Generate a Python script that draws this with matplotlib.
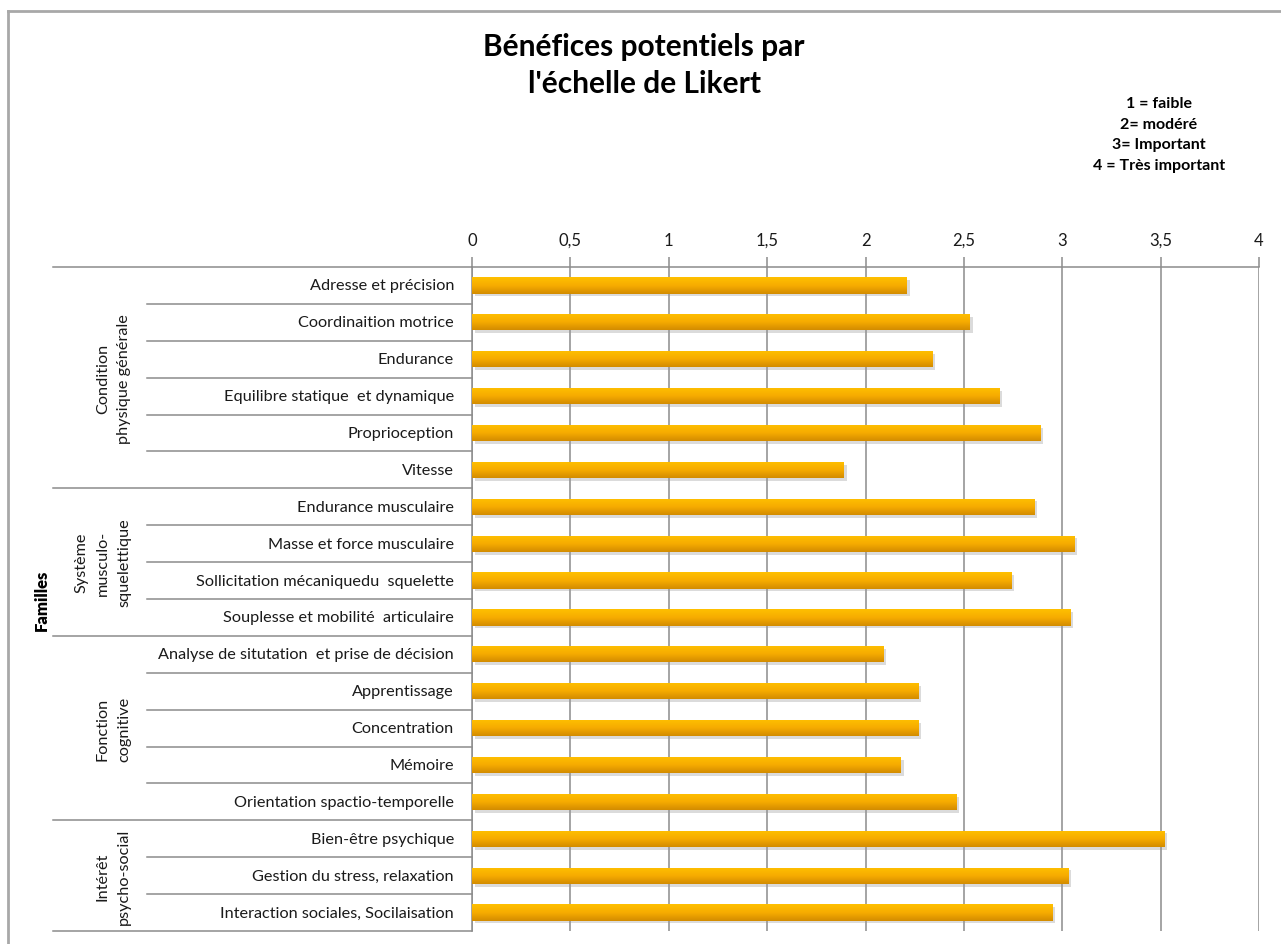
import numpy as np
import matplotlib.pyplot as plt
import matplotlib.patheffects as pe
import matplotlib.transforms as mtransforms
from matplotlib.colors import LinearSegmentedColormap
from matplotlib.lines import Line2D

plt.rcParams['font.family'] = ['Lato', 'DejaVu Sans']

# bénéfices moyens (échelle de Likert 1-4), de haut en bas
items = [
    "Adresse et précision",
    "Coordinaition motrice",
    "Endurance",
    "Equilibre statique  et dynamique",
    "Proprioception",
    "Vitesse",
    "Endurance musculaire",
    "Masse et force musculaire",
    "Sollicitation mécaniquedu  squelette",
    "Souplesse et mobilité  articulaire",
    "Analyse de situtation  et prise de décision",
    "Apprentissage",
    "Concentration",
    "Mémoire",
    "Orientation spactio-temporelle",
    "Bien-être psychique",
    "Gestion du stress, relaxation",
    "Interaction sociales, Socilaisation",
]
values = [2.21, 2.53, 2.34, 2.68, 2.89, 1.89,
          2.86, 3.06, 2.74, 3.04,
          2.09, 2.27, 2.27, 2.18, 2.46,
          3.52, 3.03, 2.95]
groups = ["Condition\nphysique générale",
          "Système\nmusculo-\nsquelettique",
          "Fonction\ncognitive",
          "Intérêt\npsycho-social"]
group_sizes = [6, 4, 5, 3]
xticks = [0, 0.5, 1, 1.5, 2, 2.5, 3, 3.5, 4]
scale_notes = ["1 = faible", "2= modéré", "3= Important", "4 = Très important"]

W, H = 1281, 945
fx = lambda x: x / W
fy = lambda y: 1 - y / H

GRID = '#8c8c8c'
TXT = '#1a1a1a'
FS = 11.7

fig = plt.figure(figsize=(W / 100, H / 100), dpi=100)
fig.patch.set_facecolor('white')
ax = fig.add_axes([fx(472), fy(932), fx(1259) - fx(472), fy(268) - fy(932)])

ypos = np.arange(len(items))
bar_h = 0.44
bars = ax.barh(ypos, values, height=bar_h, color='#F0A800', zorder=3,
               path_effects=[pe.SimplePatchShadow(offset=(2, -2), shadow_rgbFace='#9a9a9a', alpha=0.35),
                             pe.Normal()])

# vertical gradient on each bar
cmap = LinearSegmentedColormap.from_list('gold', ['#FFC000', '#F7AC00', '#D38C00'])
grad = np.linspace(0, 1, 64).reshape(-1, 1)
for b, y, v in zip(bars, ypos, values):
    im = ax.imshow(grad, extent=[0, v, y + bar_h / 2, y - bar_h / 2], cmap=cmap,
                   aspect='auto', origin='upper', zorder=4, interpolation='bilinear')
    im.set_clip_path(b)

ax.set_xlim(0, 4)
ax.set_ylim(len(items) - 0.5, -0.5)
ax.set_aspect('auto')

ax.xaxis.tick_top()
ax.set_xticks(xticks)
ax.set_xticklabels([f"{t:g}".replace('.', ',') for t in xticks])
ax.tick_params(axis='x', direction='out', length=7, width=1.1, color=GRID,
               labelsize=12, labelcolor=TXT, pad=7)
ax.set_yticks([])
ax.grid(axis='x', color=GRID, linewidth=1.1)
ax.set_axisbelow(True)
for side in ['right', 'bottom']:
    ax.spines[side].set_visible(False)
for side in ['top', 'left']:
    ax.spines[side].set_color(GRID)
    ax.spines[side].set_linewidth(1.1)

# category axis on the left: item labels, separators and group labels
trans = mtransforms.blended_transform_factory(fig.transFigure, ax.transData)
for y, name in zip(ypos, items):
    ax.text(fx(454), y, name, transform=trans, ha='right', va='center',
            fontsize=FS, color=TXT)

bounds = np.concatenate([[0], np.cumsum(group_sizes)]) - 0.5
for k in range(len(items) + 1):
    yb = k - 0.5
    x_start = fx(53) if yb in bounds else fx(147)
    ax.add_line(Line2D([x_start, fx(472)], [yb, yb], transform=trans, color=GRID,
                       linewidth=1.1, clip_on=False))

for g, lo, hi in zip(groups, bounds[:-1], bounds[1:]):
    ax.text(fx(131), (lo + hi) / 2, g, transform=trans, rotation=90, ha='right',
            va='center', multialignment='center', linespacing=1.65,
            fontsize=FS, color=TXT)

ax.text(fx(42), (len(items) - 1) / 2, "Familles", transform=trans, rotation=90,
        ha='center', va='center', fontsize=12, fontweight='heavy', color='black')

fig.text(fx(644), fy(65.5), "Bénéfices potentiels par\nl'échelle de Likert", ha='center',
         va='center', fontsize=21.5, fontweight='bold', linespacing=1.38, color='black')
fig.text(fx(1159), fy(135), "\n".join(scale_notes), ha='center', va='center',
         fontsize=11.5, fontweight='bold', linespacing=1.63, color='black')

# chart frame
fig.add_artist(Line2D([fx(8), fx(8)], [fy(12), 0], transform=fig.transFigure,
                      color='#a8a8a8', linewidth=2))
fig.add_artist(Line2D([fx(8), 1], [fy(12), fy(12)], transform=fig.transFigure,
                      color='#a8a8a8', linewidth=2))

fig.savefig('out.png', dpi=100)
